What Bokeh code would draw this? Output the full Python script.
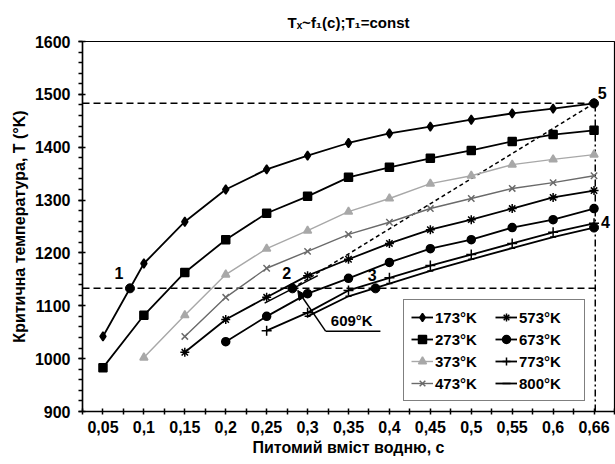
from bokeh.plotting import figure
from bokeh.models import (FixedTicker, SingleIntervalTicker, Range1d, Legend, LegendItem,
                          Label, Arrow, NormalHead)
from bokeh.embed import file_html
from bokeh.resources import INLINE

# ---------------- data ----------------
c_labels = ["0,05", "0,1", "0,15", "0,2", "0,25", "0,3", "0,35", "0,4", "0,45", "0,5", "0,55", "0,6", "0,66"]

T173 = [1042, 1180, 1259, 1320, 1358, 1384, 1408, 1426, 1439, 1452, 1464, 1473, 1483]
T273 = [983, 1082, 1163, 1225, 1275, 1307, 1343, 1362, 1379, 1394, 1411, 1424, 1432]
T373 = [None, 1002, 1082, 1159, 1208, 1242, 1278, 1303, 1331, 1346, 1367, 1377, 1386]
T473 = [None, None, 1042, 1116, 1171, 1203, 1235, 1258, 1284, 1303, 1322, 1333, 1346]
T573 = [None, None, 1012, 1074, 1116, 1157, 1188, 1218, 1244, 1263, 1284, 1305, 1318]
T673 = [None, None, None, 1032, 1080, 1123, 1152, 1182, 1208, 1225, 1248, 1263, 1284]
T773 = [None, None, None, None, 1053, 1087, 1129, 1153, 1176, 1197, 1218, 1239, 1256]
T800 = [None, None, None, None, None, 1080, 1118, 1142, 1166, 1188, 1209, 1230, 1248]

series_names = ["173°K", "273°K", "373°K", "473°K", "573°K", "673°K", "773°K", "800°K"]

# marked points 1..5 (x in category-index units)
pt_x = [0.66, 4.63, 6.66, 12.0, 12.0]
pt_y = [1133, 1133, 1133, 1248, 1483]
pt_text = ["1", "2", "3", "4", "5"]
pt_lab_x = [0.39, 4.49, 6.58, 12.28, 12.2]
pt_lab_y = [1162, 1162, 1158, 1258, 1503]

# 609 K curve fragment
seg609_x = [3.95, 5.25]
seg609_y = [1105, 1157]
label609 = "609°K"

T_level = 1133
T_top = 1483

title_text = "Tₓ~f₁(c);T₁=const"
x_label = "Питомий вміст водню, c"
y_label = "Критична температура, T (°K)"

# ---------------- figure ----------------
FONT = "Liberation Sans"
p = figure(width=615, height=464, output_backend="svg", toolbar_location=None,
           x_range=Range1d(-0.5, 12.5), y_range=Range1d(900, 1600),
           min_border_left=82, min_border_right=1, min_border_top=41, min_border_bottom=53,
           title=title_text)
p.grid.visible = False
p.outline_line_color = "black"
p.outline_line_width = 1.2
p.background_fill_color = "white"
p.border_fill_color = "white"

p.title.align = "center"
p.title.text_font = FONT
p.title.text_font_style = "bold"
p.title.text_font_size = "15px"
p.title.text_color = "black"
p.title.standoff = 22

xa = p.xaxis[0]
xa.ticker = FixedTicker(ticks=list(range(13)), minor_ticks=[i - 0.5 for i in range(14)])
xa.major_label_overrides = {i: lab for i, lab in enumerate(c_labels)}
ya = p.yaxis[0]
ya.ticker = SingleIntervalTicker(interval=100, num_minor_ticks=5)
xa.axis_label = x_label
ya.axis_label = y_label
for ax in (xa, ya):
    ax.axis_line_color = "black"
    ax.axis_line_width = 1.5
    ax.major_tick_line_color = "black"
    ax.minor_tick_line_color = "black"
    ax.major_tick_line_width = 1.5
    ax.minor_tick_line_width = 1.5
    ax.major_label_text_font = FONT
    ax.major_label_text_font_style = "bold"
    ax.major_label_text_font_size = "16px"
    ax.major_label_text_color = "black"
    ax.axis_label_text_font = FONT
    ax.axis_label_text_font_style = "bold"
    ax.axis_label_text_font_size = "16px"
    ax.axis_label_text_color = "black"
xa.major_tick_in = 3
xa.major_tick_out = 3
xa.minor_tick_in = 3
xa.minor_tick_out = 3
xa.major_label_standoff = 6
xa.axis_label_standoff = 3
ya.major_tick_in = 3
ya.major_tick_out = 4
ya.minor_tick_in = 0
ya.minor_tick_out = 4
ya.major_label_standoff = 8
ya.axis_label_standoff = 4

# reference lines
p.line([-0.5, pt_x[4]], [T_top, T_top], line_color="black", line_width=1.5, line_dash="7 4")
p.line([-0.5, 12.03], [T_level, T_level], line_color="black", line_width=1.5, line_dash="7 4")
p.line([12.03, 12.03], [900, T_top], line_color="black", line_width=1.5, line_dash="7 3 2 3")
p.line([pt_x[1], pt_x[4]], [pt_y[1], pt_y[4]], line_color="black", line_width=1.5, line_dash="4 3")

styles = [
    dict(color="black", lw=1.8, marker="diamond", size=9),
    dict(color="black", lw=1.8, marker="square", size=8),
    dict(color="#a8a8a8", lw=1.4, marker="triangle", size=8),
    dict(color="#6a6a6a", lw=1.4, marker="x", size=9),
    dict(color="black", lw=1.8, marker="asterisk", size=9),
    dict(color="black", lw=1.8, marker="circle", size=8),
    dict(color="black", lw=1.8, marker="cross", size=10),
    dict(color="black", lw=1.8, marker="dash", size=6),
]
all_series = [T173, T273, T373, T473, T573, T673, T773, T800]
items = []
for name, vals, st in zip(series_names, all_series, styles):
    xs = [i for i, v in enumerate(vals) if v is not None]
    ys = [v for v in vals if v is not None]
    lr = p.line(xs, ys, line_color=st["color"], line_width=st["lw"])
    sr = p.scatter(xs, ys, marker=st["marker"], size=st["size"], line_color=st["color"],
                   fill_color=st["color"], line_width=1.5)
    items.append(LegendItem(label=name, renderers=[lr, sr]))

# 609 K fragment
p.line(seg609_x, seg609_y, line_color="black", line_width=1.5)

# marked points
p.scatter(pt_x, pt_y, marker="circle", size=9, fill_color="black", line_color="black")
for tx, lx, ly in zip(pt_text, pt_lab_x, pt_lab_y):
    p.add_layout(Label(x=lx, y=ly, text=tx, text_font=FONT, text_font_style="bold",
                       text_font_size="16px", text_align="center", text_baseline="middle",
                       text_color="black"))

# 609 K annotation
p.line([5.44, 6.78], [1052, 1052], line_color="black", line_width=1.5)
p.add_layout(Arrow(end=NormalHead(size=9, fill_color="black", line_color="black"),
                   x_start=5.44, y_start=1052, x_end=4.76, y_end=1129,
                   line_color="black", line_width=1.5))
p.add_layout(Label(x=6.08, y=1056, text=label609, text_font=FONT, text_font_style="bold",
                   text_font_size="15px", text_align="center", text_baseline="bottom",
                   text_color="black"))

# legend
legend = Legend(items=items, ncols=2, location=(321, 10),
                label_text_font=FONT, label_text_font_style="bold", label_text_font_size="15px",
                label_text_color="black", glyph_width=22, glyph_height=20, label_height=20,
                label_width=58, label_standoff=2, spacing=2, padding=7, margin=0,
                border_line_color="black", border_line_width=1.2,
                background_fill_color="white", background_fill_alpha=1.0)
p.add_layout(legend, "center")

open("out.html", "w").write(file_html(p, INLINE))
